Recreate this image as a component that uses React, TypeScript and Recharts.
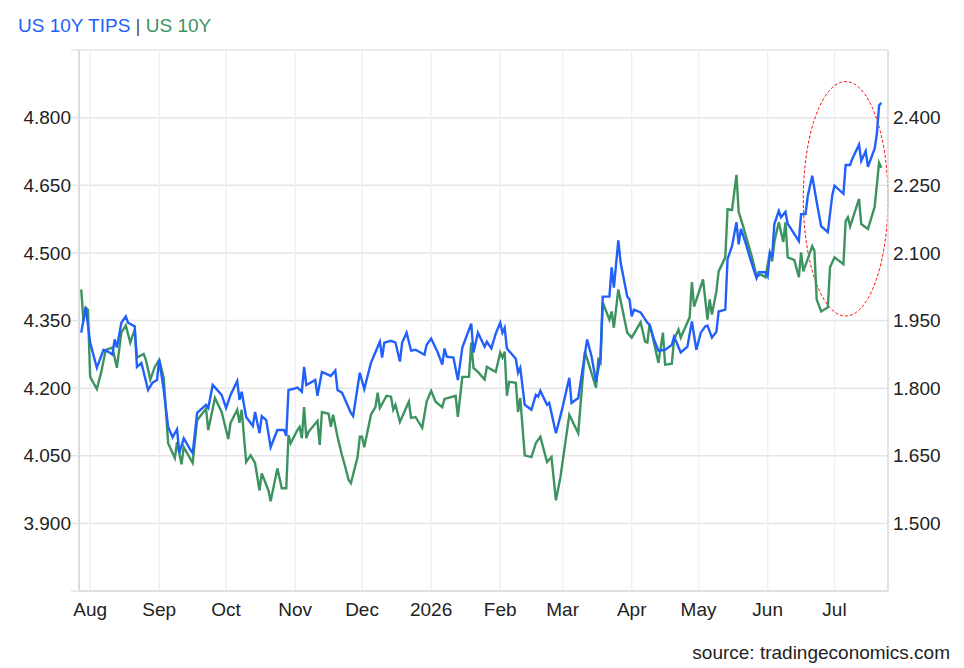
import { CartesianGrid, Line, LineChart, ReferenceArea, XAxis, YAxis } from 'recharts';

// Two yields on twin axes that share the same spacing (right = left - 2.4).
const BLUE = '#2160f9';
const GREEN = '#3d9360';
const TEXT = '#222222';
const GRID_H = '#e5e5e5';
const GRID_V = '#edf1f5';
const AXIS = '#dcdcdc';
const FONT = '"Liberation Sans", Arial, Helvetica, sans-serif';

const W = 964;
const H = 668;

// x is days since 2025-08-01
const MONTH_DAYS = [0, 31, 61, 92, 122, 153, 184, 212, 243, 273, 304, 334];
const MONTH_LABELS = ['Aug', 'Sep', 'Oct', 'Nov', 'Dec', '2026', 'Feb', 'Mar', 'Apr', 'May', 'Jun', 'Jul'];

const LEFT_TICKS = [3.75, 3.9, 4.05, 4.2, 4.35, 4.5, 4.65, 4.8, 4.95];
const RIGHT_TICKS = [1.35, 1.5, 1.65, 1.8, 1.95, 2.1, 2.25, 2.4, 2.55];

const TIPS_DAYS = [
  -4, -2, 0, 3, 6, 8, 10, 11, 12, 14, 16, 17, 20, 21, 23, 26, 28, 30, 31, 33, 35, 37, 39, 40, 42, 45, 46, 47,
  48, 52, 53, 55, 59, 61, 63, 66, 67, 68, 70, 73, 74, 76, 77, 79, 81, 84, 87, 88, 89, 91, 93, 95, 96, 97, 101,
  102, 104, 108, 110, 111, 113, 117, 118, 121, 123, 126, 130, 131, 132, 135, 137, 139, 140, 142, 144, 146, 150,
  151, 153, 156, 158, 159, 160, 163, 165, 167, 171, 172, 174, 177, 178, 180, 182, 184, 185, 186, 187, 191, 192,
  193, 195, 198, 200, 201, 202, 205, 206, 209, 211, 212, 215, 216, 219, 223, 225, 227, 229, 230, 233, 234, 235,
  237, 238, 241, 242, 243, 244, 247, 250, 251, 253, 255, 258, 261, 262, 263, 265, 268, 270, 272, 274, 276, 277,
  279, 281, 282, 285, 286, 288, 290, 291, 292, 294, 296, 299, 300, 303, 304, 305, 306, 307, 309, 310, 312, 313,
  314, 318, 319, 321, 322, 324, 326, 328, 331, 333, 334, 338, 339, 341, 342, 345, 346, 348, 349, 352, 353, 354,
  355,
];
const TIPS_VALUES = [
  1.923, 1.979, 1.901, 1.845, 1.885, 1.881, 1.874, 1.908, 1.89, 1.945, 1.959, 1.945, 1.937, 1.847, 1.856, 1.796,
  1.812, 1.818, 1.863, 1.796, 1.714, 1.691, 1.709, 1.656, 1.689, 1.663, 1.656, 1.7, 1.745, 1.763, 1.756, 1.807,
  1.785, 1.756, 1.785, 1.816, 1.774, 1.792, 1.736, 1.716, 1.747, 1.7, 1.738, 1.729, 1.669, 1.707, 1.707, 1.694,
  1.796, 1.798, 1.801, 1.792, 1.847, 1.807, 1.818, 1.783, 1.836, 1.827, 1.839, 1.796, 1.79, 1.745, 1.738, 1.834,
  1.798, 1.856, 1.903, 1.868, 1.901, 1.905, 1.901, 1.859, 1.901, 1.923, 1.883, 1.885, 1.874, 1.896, 1.91, 1.879,
  1.852, 1.888, 1.87, 1.868, 1.818, 1.89, 1.943, 1.879, 1.923, 1.892, 1.903, 1.888, 1.921, 1.945, 1.923, 1.934,
  1.888, 1.865, 1.834, 1.845, 1.763, 1.752, 1.785, 1.781, 1.794, 1.763, 1.767, 1.7, 1.738, 1.758, 1.823, 1.767,
  1.778, 1.908, 1.87, 1.814, 1.87, 2.003, 2.003, 2.068, 2.023, 2.128, 2.079, 2.003, 1.997, 1.959, 1.974, 1.968,
  1.945, 1.941, 1.908, 1.883, 1.885, 1.896, 1.914, 1.903, 1.879, 1.892, 1.948, 1.885, 1.923, 1.937, 1.939, 1.912,
  1.925, 1.97, 1.974, 2.086, 2.115, 2.168, 2.119, 2.153, 2.124, 2.09, 2.044, 2.057, 2.057, 2.048, 2.101, 2.09,
  2.164, 2.193, 2.179, 2.191, 2.164, 2.157, 2.126, 2.186, 2.186, 2.226, 2.271, 2.213, 2.159, 2.146, 2.228, 2.249,
  2.231, 2.295, 2.295, 2.309, 2.34, 2.304, 2.326, 2.291, 2.331, 2.364, 2.427, 2.433,
];

const US10Y_DAYS = [
  -4, -3, -2, -1, 0, 3, 5, 7, 10, 12, 14, 16, 18, 20, 21, 24, 25, 27, 29, 31, 33, 35, 38, 39, 41, 42, 46, 48, 52,
  53, 56, 59, 62, 63, 66, 67, 68, 70, 72, 74, 76, 77, 80, 81, 84, 86, 88, 89, 90, 93, 94, 95, 96, 97, 98, 102,
  103, 104, 107, 108, 109, 111, 113, 114, 116, 117, 120, 121, 122, 123, 126, 128, 129, 130, 133, 135, 136, 137,
  139, 143, 144, 146, 149, 151, 153, 155, 158, 159, 164, 165, 167, 170, 171, 172, 174, 177, 178, 182, 184, 185,
  186, 187, 188, 191, 192, 193, 195, 198, 200, 202, 205, 207, 209, 211, 215, 219, 222, 227, 228, 229, 230, 233,
  234, 235, 237, 241, 243, 247, 249, 250, 251, 252, 255, 257, 258, 261, 262, 264, 265, 269, 270, 271, 275, 277,
  278, 279, 281, 282, 285, 286, 288, 290, 291, 293, 297, 299, 301, 303, 305, 306, 307, 309, 311, 312, 313, 315,
  316, 318, 319, 320, 324, 325, 326, 328, 331, 332, 334, 338, 339, 340, 341, 345, 346, 349, 352, 354, 355,
];
const US10Y_VALUES = [
  4.419, 4.348, 4.379, 4.374, 4.225, 4.198, 4.236, 4.285, 4.29, 4.245, 4.323, 4.339, 4.301, 4.33, 4.268, 4.276,
  4.263, 4.219, 4.247, 4.263, 4.223, 4.078, 4.045, 4.08, 4.031, 4.069, 4.034, 4.129, 4.154, 4.107, 4.178, 4.147,
  4.087, 4.123, 4.152, 4.123, 4.152, 4.036, 4.051, 4.034, 3.973, 4.011, 3.973, 3.949, 4.022, 3.978, 3.978, 4.096,
  4.078, 4.107, 4.114, 4.089, 4.158, 4.089, 4.103, 4.127, 4.074, 4.147, 4.143, 4.114, 4.141, 4.092, 4.051, 4.034,
  3.996, 3.989, 4.047, 4.092, 4.092, 4.069, 4.141, 4.158, 4.19, 4.156, 4.183, 4.181, 4.152, 4.163, 4.125, 4.17,
  4.134, 4.136, 4.112, 4.17, 4.194, 4.17, 4.158, 4.176, 4.183, 4.136, 4.225, 4.225, 4.301, 4.245, 4.236, 4.219,
  4.247, 4.236, 4.279, 4.268, 4.281, 4.183, 4.214, 4.212, 4.147, 4.178, 4.051, 4.047, 4.078, 4.092, 4.036, 4.047,
  3.951, 4.002, 4.141, 4.1, 4.281, 4.201, 4.263, 4.256, 4.39, 4.352, 4.37, 4.334, 4.419, 4.323, 4.312, 4.346,
  4.303, 4.301, 4.341, 4.323, 4.256, 4.323, 4.252, 4.254, 4.308, 4.33, 4.312, 4.357, 4.435, 4.381, 4.441, 4.352,
  4.397, 4.363, 4.415, 4.459, 4.49, 4.597, 4.595, 4.673, 4.591, 4.559, 4.49, 4.448, 4.452, 4.446, 4.501, 4.481,
  4.524, 4.568, 4.524, 4.568, 4.49, 4.486, 4.484, 4.446, 4.501, 4.459, 4.515, 4.504, 4.397, 4.37, 4.379, 4.468,
  4.49, 4.475, 4.571, 4.579, 4.559, 4.62, 4.564, 4.553, 4.602, 4.7, 4.689,
];

// the hand-drawn red ring around the last weeks, in data units (days / left axis)
const RING = { x1: 320, x2: 358, y1: 4.36, y2: 4.88 };

const isEdge = (v: number, ticks: number[]) =>
  Math.abs(v - ticks[0]) < 1e-6 || Math.abs(v - ticks[ticks.length - 1]) < 1e-6;

export default function App() {
  const tips = TIPS_DAYS.map((day, i) => ({ day, value: TIPS_VALUES[i] }));
  const us10y = US10Y_DAYS.map((day, i) => ({ day, value: US10Y_VALUES[i] }));
  const tick = { fontSize: 19, fill: TEXT };

  return (
    <div style={{ position: 'absolute', left: 0, top: 0, width: W, height: H, background: '#fff', fontFamily: FONT }}>
      <LineChart width={W} height={H} margin={{ top: 50, right: 0, bottom: 37, left: 0 }}>
        <CartesianGrid yAxisId="left" vertical={false} stroke={GRID_H} strokeWidth={1.5} />
        <CartesianGrid yAxisId="left" horizontal={false} stroke={GRID_V} strokeWidth={1.5} />
        <XAxis
          dataKey="day"
          type="number"
          domain={[-5, 358]}
          ticks={MONTH_DAYS}
          interval={0}
          allowDataOverflow
          tickFormatter={(v: number) => MONTH_LABELS[MONTH_DAYS.indexOf(v)] ?? ''}
          tick={tick}
          tickLine={false}
          tickSize={4}
          tickMargin={8}
          height={40}
          stroke={AXIS}
          strokeWidth={1.5}
        />
        <YAxis
          yAxisId="left"
          orientation="left"
          width={79}
          domain={[3.75, 4.95]}
          ticks={LEFT_TICKS}
          interval={0}
          allowDataOverflow
          tickFormatter={(v: number) => (isEdge(v, LEFT_TICKS) ? '' : v.toFixed(3))}
          tick={tick}
          tickSize={8}
          tickMargin={0}
          tickLine={{ stroke: GRID_H, strokeWidth: 1.5 }}
          stroke={AXIS}
          strokeWidth={2}
        />
        <YAxis
          yAxisId="right"
          orientation="right"
          width={76}
          domain={[1.35, 2.55]}
          ticks={RIGHT_TICKS}
          interval={0}
          allowDataOverflow
          tickFormatter={(v: number) => (isEdge(v, RIGHT_TICKS) ? '' : v.toFixed(3))}
          tick={tick}
          tickLine={false}
          tickSize={5}
          tickMargin={0}
          stroke={AXIS}
          strokeWidth={1.5}
        />
        <Line
          data={us10y}
          dataKey="value"
          yAxisId="left"
          type="linear"
          stroke={GREEN}
          strokeWidth={2.4}
          dot={false}
          isAnimationActive={false}
        />
        <Line
          data={tips}
          dataKey="value"
          yAxisId="right"
          type="linear"
          stroke={BLUE}
          strokeWidth={2.4}
          dot={false}
          isAnimationActive={false}
        />
        <ReferenceArea
          yAxisId="left"
          x1={RING.x1}
          x2={RING.x2}
          y1={RING.y1}
          y2={RING.y2}
          ifOverflow="visible"
          shape={(p: any) => (
            <ellipse
              cx={p.x + p.width / 2}
              cy={p.y + p.height / 2}
              rx={Math.abs(p.width) / 2}
              ry={Math.abs(p.height) / 2}
              fill="none"
              stroke="#ff0000"
              strokeWidth={1}
              strokeDasharray="3 2"
            />
          )}
        />
      </LineChart>
      <svg width={W} height={H} style={{ position: 'absolute', left: 0, top: 0, pointerEvents: 'none' }}>
        <text x={18} y={32} fontSize={19}>
          <tspan fill={BLUE}>US 10Y TIPS</tspan>
          <tspan fill="#555555">{' | '}</tspan>
          <tspan fill={GREEN}>US 10Y</tspan>
        </text>
        <text x={950} y={659} fontSize={19} fill="#222222" textAnchor="end">
          source: tradingeconomics.com
        </text>
      </svg>
    </div>
  );
}
